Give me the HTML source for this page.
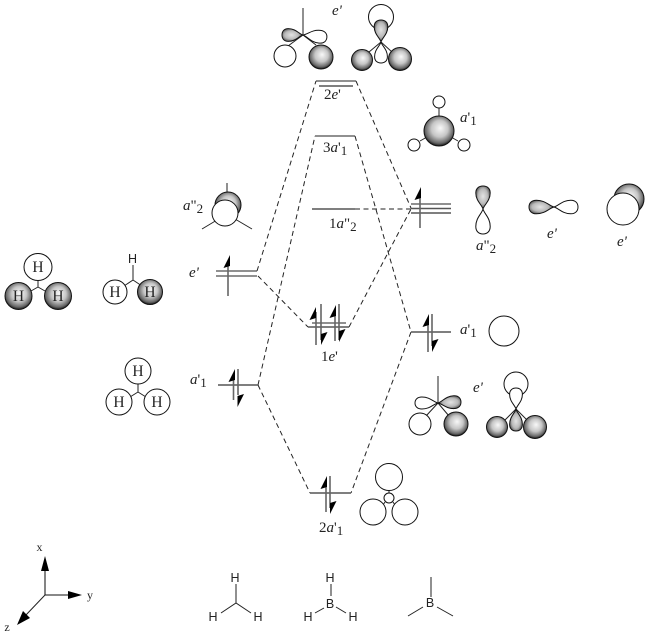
<!DOCTYPE html>
<html><head><meta charset="utf-8">
<style>
html,body{margin:0;padding:0;background:#fff}
svg{display:block}
.t{font-family:"Liberation Serif",serif;font-size:15px;fill:#222}
.t tspan.u{font-size:13px}
.h{font-family:"Liberation Serif",serif;font-size:15.5px;fill:#222;text-anchor:middle}
.s{font-family:"Liberation Sans",sans-serif;font-size:12.5px;fill:#222;text-anchor:middle}
.i{font-style:italic}
.b{stroke:#222;stroke-width:1;fill:none}
.w{stroke:#111;stroke-width:1;fill:#fff}
.g{stroke:#111;stroke-width:1;fill:url(#rg)}
.gl{stroke:#111;fill:url(#lg)}
.wl{stroke:#111;fill:#fff}
.lv{stroke:#555;stroke-width:1.6;fill:none}
.lk{stroke:#222;stroke-width:1.1;fill:none}
.d{stroke:#222;stroke-width:1;stroke-dasharray:5 3.5;fill:none}
.ar{stroke:#666;stroke-width:1.6}
</style></head>
<body>
<svg width="649" height="638" viewBox="0 0 649 638" xmlns="http://www.w3.org/2000/svg">
<defs>
<radialGradient id="rg" cx=".5" cy=".45" r=".55" fx=".55" fy=".4">
<stop offset="0" stop-color="#f8f8f8"/><stop offset=".5" stop-color="#c6c6c6"/><stop offset=".85" stop-color="#666"/><stop offset="1" stop-color="#151515"/>
</radialGradient>
<radialGradient id="lg" cx=".55" cy=".5" r=".6">
<stop offset="0" stop-color="#e4e4e4"/><stop offset=".55" stop-color="#b8b8b8"/><stop offset="1" stop-color="#333"/>
</radialGradient>
<path id="lobe" vector-effect="non-scaling-stroke" stroke-width="1" d="M0 0C.2-.15 .35-.8 .7-.8C.9-.8 1-.45 1 0C1 .45 .9 .8 .7 .8C.35 .8 .2 .15 0 0Z"/>
<polygon id="up" points="0,0 -6.5,13 0,11" fill="#000"/>
<polygon id="dn" points="0,0 6.5,-13 0,-11" fill="#000"/>
</defs>

<!-- dashed connectors -->
<path class="d" d="M257 271L316 81"/>
<path class="d" d="M356 81L411 208"/>
<path class="d" d="M258 385L315 136"/>
<path class="d" d="M355 136L411 332"/>
<path class="d" d="M355 209L411 209"/>
<path class="d" d="M258 276L308 327"/>
<path class="d" d="M349 327L411 209"/>
<path class="d" d="M411 332L351 493"/>
<path class="d" d="M258 385L310 493"/>

<!-- levels -->
<path class="lk" d="M316 81H356"/><path class="lv" d="M319 86H353"/>
<path class="lk" d="M315 136H355"/>
<path class="lv" d="M312 209H355"/>
<path class="lk" d="M216 271H257M216 276H257"/>
<path class="lv" d="M218 385H258"/>
<path class="lk" d="M411 204H451"/><path class="lv" d="M411 208.5H451M411 213H451"/>
<path class="lk" d="M312 323H346"/><path class="lv" d="M308 327H349"/>
<path class="lv" d="M411 332H451"/>
<path class="lv" d="M310 493H351"/>

<!-- electrons -->
<path class="ar" d="M228 262V296"/><use href="#up" x="230" y="255"/>
<path class="ar" d="M233.5 374V400"/><use href="#up" x="235" y="369"/>
<path class="ar" d="M238 369V395"/><use href="#dn" x="237.5" y="407"/>
<path class="ar" d="M420 194V228"/><use href="#up" x="421" y="187"/>
<path class="ar" d="M316 312V345"/><use href="#up" x="316" y="307"/>
<path class="ar" d="M321 304V340"/><use href="#dn" x="321" y="345"/>
<path class="ar" d="M335 312V341"/><use href="#up" x="336" y="305"/>
<path class="ar" d="M339 304V340"/><use href="#dn" x="339" y="342"/>
<path class="ar" d="M428 320V352"/><use href="#up" x="429" y="314"/>
<path class="ar" d="M432 314V346"/><use href="#dn" x="432" y="352"/>
<path class="ar" d="M326 482V512"/><use href="#up" x="327" y="476"/>
<path class="ar" d="M330 476V508"/><use href="#dn" x="330" y="514"/>

<!-- labels -->
<text class="t" x="183" y="210"><tspan class="i">a</tspan>"<tspan class="u" dy="3">2</tspan></text>
<text class="t i" x="189" y="277">e'</text>
<text class="t" x="190" y="384"><tspan class="i">a</tspan>'<tspan class="u" dy="3">1</tspan></text>
<text class="t" x="324" y="99">2<tspan class="i">e</tspan>'</text>
<text class="t" x="323" y="152">3<tspan class="i">a</tspan>'<tspan class="u" dy="3">1</tspan></text>
<text class="t" x="329" y="228">1<tspan class="i">a</tspan>"<tspan class="u" dy="3">2</tspan></text>
<text class="t" x="460" y="122"><tspan class="i">a</tspan>'<tspan class="u" dy="3">1</tspan></text>
<text class="t i" x="332" y="15">e'</text>
<text class="t" x="476" y="250"><tspan class="i">a</tspan>"<tspan class="u" dy="3">2</tspan></text>
<text class="t i" x="547" y="238">e'</text>
<text class="t i" x="617" y="246">e'</text>
<text class="t" x="460" y="334"><tspan class="i">a</tspan>'<tspan class="u" dy="3">1</tspan></text>
<text class="t" x="321" y="361">1<tspan class="i">e</tspan>'</text>
<text class="t i" x="473" y="392">e'</text>
<text class="t" x="319" y="532">2<tspan class="i">a</tspan>'<tspan class="u" dy="3">1</tspan></text>

<!-- left: fragment 1 -->
<path class="b" d="M38 281V287M38 287L31 291M38 287L45 291"/>
<ellipse class="w" cx="38" cy="267" rx="14" ry="13.5"/>
<circle class="g" cx="18.5" cy="296" r="13.5"/><circle class="g" cx="58" cy="296" r="13.5"/>
<text class="h" x="38" y="272">H</text><text class="h" x="18.5" y="301">H</text><text class="h" x="58" y="301">H</text>
<!-- fragment 2 -->
<path class="b" d="M133 265V280L124 286M133 280L142 286"/>
<circle class="w" cx="115" cy="292" r="12"/><circle class="g" cx="150" cy="292" r="12.5"/>
<text class="s" x="132.5" y="263">H</text>
<text class="h" x="115" y="297">H</text><text class="h" x="150" y="297">H</text>
<!-- fragment 3 -->
<path class="b" d="M138 384V392M138 392L130 397M138 392L146 397"/>
<circle class="w" cx="138" cy="371" r="13"/><circle class="w" cx="119" cy="402" r="13"/><circle class="w" cx="157" cy="402" r="13"/>
<text class="h" x="138" y="376">H</text><text class="h" x="119" y="407">H</text><text class="h" x="157" y="407">H</text>

<!-- a"2 left orbital -->
<path class="b" d="M227 183V193M202 229L217 220M252 229L235 219"/>
<circle class="g" cx="228" cy="205" r="13"/><circle class="w" cx="225" cy="213" r="13"/>

<!-- top e' orbital 1 -->
<path class="b" d="M303 8V35M303 35L288 46M303 35L316 45"/>
<circle class="w" cx="285" cy="56" r="11"/><circle class="g" cx="321" cy="57" r="12"/>
<use href="#lobe" class="wl" transform="translate(303 35) rotate(6) scale(24 8)"/>
<use href="#lobe" class="gl" transform="translate(303 35) rotate(180) scale(21 8)"/>

<!-- top e' orbital 2 -->
<circle class="w" cx="381" cy="17" r="12.5"/>
<path class="b" d="M381 42L369 52M381 42L392 52"/>
<circle class="g" cx="362" cy="60" r="10.5"/><circle class="g" cx="400" cy="59" r="11.5"/>
<use href="#lobe" class="wl" transform="translate(381 42) rotate(90) scale(21 8)"/>
<use href="#lobe" class="gl" transform="translate(381 42) rotate(-90) scale(22 8.5)"/>

<!-- top right a'1 -->
<path class="b" d="M439 108V118M420 141L427 137M458 141L451 137"/>
<circle class="g" cx="439" cy="131" r="15"/>
<circle class="w" cx="439" cy="102" r="6"/><circle class="w" cx="414" cy="145" r="6"/><circle class="w" cx="464" cy="145" r="6"/>

<!-- right p orbitals -->
<use href="#lobe" class="gl" transform="translate(483 209) rotate(-90) scale(23 9)"/>
<use href="#lobe" class="wl" transform="translate(483 209) rotate(90) scale(25 9)"/>
<use href="#lobe" class="gl" transform="translate(554 207) rotate(180) scale(25 8.5)"/>
<use href="#lobe" class="wl" transform="translate(554 207) scale(24 8.5)"/>
<circle class="g" cx="629" cy="199" r="15"/><circle class="w" cx="623" cy="209" r="16"/>

<!-- a'1 circle -->
<circle class="w" cx="504" cy="331" r="15"/>

<!-- lower e' orbital 1 -->
<path class="b" d="M438 376V403M438 403L426 416M438 403L449 416"/>
<circle class="w" cx="420" cy="424" r="11"/><circle class="g" cx="456" cy="424" r="12"/>
<use href="#lobe" class="wl" transform="translate(438 403) rotate(180) scale(23 7.5)"/>
<use href="#lobe" class="gl" transform="translate(438 403) rotate(-3) scale(23 8)"/>

<!-- lower e' orbital 2 -->
<circle class="w" cx="516" cy="384" r="12"/>
<path class="b" d="M516 409L504 421M516 409L528 421"/>
<circle class="g" cx="497" cy="427" r="10.5"/><circle class="g" cx="535" cy="427" r="11.5"/>
<use href="#lobe" class="wl" transform="translate(516 409) rotate(-90) scale(21 8)"/>
<use href="#lobe" class="gl" transform="translate(516 409) rotate(90) scale(22 8)"/>

<!-- 2a'1 orbital -->
<path class="b" d="M389 490V494M385 502L383 505M393 502L395 505"/>
<circle class="w" cx="389" cy="477" r="13.5"/><circle class="w" cx="389" cy="498" r="5"/>
<circle class="w" cx="373" cy="512" r="13"/><circle class="w" cx="405" cy="512" r="13"/>

<!-- axes -->
<path stroke="#666" stroke-width="1.6" d="M45 595V565"/>
<polygon points="45,556 41,571 49,571" fill="#000"/>
<path stroke="#111" stroke-width="1" d="M45 595H72"/>
<polygon points="82,595 68,591 68,599" fill="#000"/>
<path stroke="#222" stroke-width="1" d="M45 595L25 616"/>
<polygon points="17,625 23,611 30,618" fill="#000"/>
<text class="h" style="font-size:12px" x="39.5" y="551">x</text>
<text class="h" style="font-size:12px" x="90" y="599">y</text>
<text class="h" style="font-size:12px" x="7" y="631">z</text>

<!-- molecules -->
<path class="b" d="M236 584V603M221 613L236 603L251 613"/>
<text class="s" x="235" y="582">H</text><text class="s" x="213" y="621">H</text><text class="s" x="258" y="621">H</text>
<path class="b" d="M331 584V596M315 613L324 608M336 607L346 613"/>
<text class="s" x="330" y="582">H</text><text class="s" x="330" y="608">B</text><text class="s" x="308" y="621">H</text><text class="s" x="353" y="621">H</text>
<path class="b" d="M431 577V597M408 616L423 607M437 607L453 616"/>
<text class="s" x="430" y="607">B</text>
</svg>
</body></html>
